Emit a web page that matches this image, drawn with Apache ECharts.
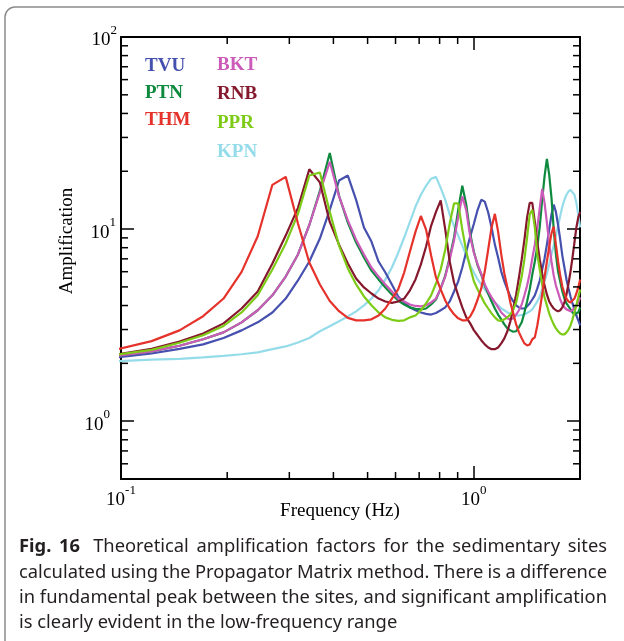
<!DOCTYPE html>
<html>
<head>
<meta charset="utf-8">
<script src="https://cdn.jsdelivr.net/npm/echarts@6.0.0/dist/echarts.min.js"></script>
<style>
html,body{margin:0;padding:0;background:#fff;}
#chart{width:624px;height:641px;}
</style>
</head>
<body>
<div id="chart"></div>
<script>
// Frequency samples (Hz)
const freq = [0.0977,0.1221,0.1465,0.1709,0.1953,0.2197,0.2441,0.2686,0.2930,0.3174,
0.3418,0.3662,0.3906,0.4150,0.4395,0.4639,0.4883,0.5127,0.5371,0.5615,
0.5859,0.6104,0.6348,0.6592,0.6836,0.7080,0.7324,0.7568,0.7813,0.8057,
0.8301,0.8545,0.8789,0.9033,0.9277,0.9521,0.9766,1.0010,1.0254,1.0498,
1.0742,1.0986,1.1230,1.1475,1.1719,1.1963,1.2207,1.2451,1.2695,1.2939,
1.3184,1.3428,1.3672,1.3916,1.4160,1.4404,1.4648,1.4893,1.5137,1.5381,
1.5625,1.5869,1.6113,1.6357,1.6602,1.6846,1.7090,1.7334,1.7578,1.7822,
1.8066,1.8311,1.8555,1.8799,1.9043,1.9287,1.9531,1.9775,2.0020];

const TVU = [2.15,2.25,2.38,2.51,2.71,2.97,3.27,3.68,4.35,5.40,
6.78,8.93,12.6,17.9,19.0,14.2,10.2,8.61,6.78,5.94,
5.15,4.46,4.15,3.91,3.78,3.68,3.62,3.59,3.66,3.78,
3.91,4.20,4.73,5.34,6.31,7.64,9.14,10.7,12.6,14.2,
13.9,12.2,10.2,8.30,7.11,6.01,5.34,4.85,4.46,4.20,
4.01,3.91,3.86,3.86,3.96,4.10,4.30,4.52,4.91,5.40,
6.16,7.03,8.30,9.94,11.9,13.4,12.3,10.5,8.81,7.28,
6.31,5.47,4.91,4.46,4.10,3.82,3.55,3.35,3.15];

const PTN = [2.19,2.31,2.47,2.67,2.90,3.27,3.78,4.52,5.66,7.38,
10.5,15.8,24.9,14.9,10.8,8.51,7.11,6.08,5.47,4.97,
4.57,4.25,4.05,3.91,3.84,3.82,3.86,4.05,4.30,4.91,
5.73,7.11,9.04,12.6,16.8,13.4,9.5,7.6,6.46,5.80,
5.08,4.62,4.20,3.86,3.59,3.39,3.19,3.04,2.97,2.92,
2.94,3.08,3.27,3.68,4.20,4.85,5.80,6.78,8.1,10.3,
14.2,18.8,23.2,19.2,14.6,10.0,7.38,6.01,5.34,4.73,
4.35,4.10,3.96,3.82,3.68,3.59,3.55,3.68,3.91];

const THM = [2.37,2.61,2.97,3.52,4.35,5.99,9.18,17.0,18.7,10.7,
6.70,5.15,4.22,3.74,3.45,3.35,3.35,3.39,3.55,3.86,
4.35,4.85,5.94,7.64,9.70,11.7,9.94,7.28,5.60,4.85,
4.25,3.86,3.60,3.43,3.35,3.35,3.51,3.82,4.30,4.91,
6.01,7.83,10.2,12.0,9.70,7.38,5.87,4.97,4.15,3.64,
3.19,2.90,2.70,2.54,2.48,2.51,2.67,2.73,3.15,3.78,
4.57,5.60,6.78,8.11,9.5,10.3,8.30,6.78,5.73,5.02,
4.62,4.35,4.20,4.15,4.20,4.35,4.62,4.97,5.47];

const BKT = [2.19,2.31,2.47,2.67,2.90,3.27,3.78,4.52,5.66,7.38,
10.5,15.5,22.4,14.8,11.1,8.81,7.38,6.31,5.66,5.15,
4.73,4.35,4.20,4.05,3.98,3.96,4.01,4.15,4.35,4.91,
5.66,6.95,8.71,11.6,14.8,12.5,9.14,7.51,6.55,5.87,
5.15,4.73,4.41,4.15,3.91,3.68,3.55,3.43,3.39,3.43,
3.59,3.78,4.05,4.52,5.08,5.87,7.03,8.30,10.2,12.9,
16.2,13.7,10.8,8.41,6.78,5.73,5.08,4.68,4.30,4.05,
3.91,3.82,3.78,3.73,3.78,3.86,3.96,4.15,4.41];

const RNB = [2.23,2.38,2.60,2.86,3.23,3.86,4.73,6.62,9.25,12.9,
20.5,17.5,10.9,8.30,6.62,5.53,4.97,4.62,4.35,4.20,
4.13,4.20,4.35,4.80,5.47,6.55,8.11,10.4,12.3,14.1,
9.94,6.78,5.27,4.52,3.91,3.47,3.23,2.97,2.80,2.64,
2.51,2.42,2.37,2.37,2.42,2.54,2.70,2.94,3.31,3.86,
4.57,5.60,6.95,8.81,11.5,13.7,13.7,10.9,8.51,6.95,
5.87,5.08,4.57,4.20,4.01,3.86,3.78,3.73,3.78,3.91,
4.15,4.57,5.21,6.01,7.11,8.51,10.2,11.5,12.3];

const PPR = [2.22,2.35,2.56,2.80,3.13,3.68,4.52,6.16,8.41,12.0,
19.0,19.7,12.3,8.20,6.24,5.15,4.46,4.01,3.68,3.47,
3.37,3.33,3.35,3.47,3.55,3.78,4.10,4.52,5.21,6.16,
7.83,10.7,13.6,13.6,9.94,7.64,6.31,5.34,4.85,4.46,
4.10,3.86,3.64,3.47,3.35,3.33,3.39,3.47,3.59,3.82,
4.15,4.85,5.66,6.95,9.04,11.9,12.6,10.2,7.38,6.16,
5.15,4.41,4.01,3.64,3.39,3.19,3.04,2.94,2.86,2.83,
2.83,2.90,3.00,3.15,3.39,3.68,4.01,4.41,4.85];

const KPN = [2.05,2.09,2.11,2.15,2.19,2.23,2.28,2.37,2.45,2.57,
2.71,2.94,3.12,3.31,3.51,3.73,4.01,4.35,4.80,5.47,
6.31,7.51,9.04,10.9,13.1,15.1,16.8,18.3,18.7,16.4,
14.2,11.9,10.4,9.25,8.20,7.28,6.46,5.94,5.47,5.15,
4.85,4.57,4.35,4.15,4.01,3.86,3.78,3.68,3.62,3.57,
3.55,3.55,3.57,3.59,3.66,3.73,3.82,4.01,4.20,4.46,
4.85,5.34,5.87,6.55,7.38,8.20,9.25,10.4,11.7,13.1,
14.2,15.1,15.7,16.0,16.0,15.1,13.7,11.9,10.2];

// Axis ticks
const xMajorExp = [-1, 0];
const yMajorExp = [0, 1, 2];
const xMinor = [0.2,0.3,0.4,0.5,0.6,0.7,0.8,0.9];
const yMinor = [0.6,0.7,0.8,0.9,2,3,4,5,6,7,8,9,20,30,40,50,60,70,80,90];

// Caption
const captionLabel = 'Fig. 16';
const captionLines = [
  'Theoretical amplification factors for the sedimentary sites',
  'calculated using the Propagator Matrix method. There is a difference',
  'in fundamental peak between the sites, and significant amplification',
  'is clearly evident in the low-frequency range'
];

const seriesData = {TVU, PTN, THM, BKT, RNB, PPR, KPN};
const colors = {TVU:'#4650ae', PTN:'#0e8a3e', THM:'#e5322a', BKT:'#cc5ab9', RNB:'#85182c', PPR:'#7dcb16', KPN:'#95dcea'};
const drawOrder = ['KPN','TVU','PTN','BKT','RNB','PPR','THM'];

const serif = 'Liberation Serif, Times New Roman, serif';
const sansName = '"Noto Sans"';

const yPad = {0: 7, 1: 1, 2: 0};
function powLabel(exps, pad) {
  return function (v) {
    const e = Math.round(Math.log10(v));
    if (Math.abs(Math.log10(v) - e) > 1e-6 || exps.indexOf(e) < 0) return '';
    let s = '{b|10}{s|' + e + '}';
    if (pad && pad[e]) s += '{p' + pad[e] + '| }';
    return s;
  };
}
const rich = {
  b: {fontFamily: serif, fontSize: 19, lineHeight: 26, verticalAlign: 'bottom', color: '#000'},
  s: {fontFamily: serif, fontSize: 13, lineHeight: 13, verticalAlign: 'top', color: '#000'},
  p1: {width: 1}, p7: {width: 7}
};
const axisLine = {show: true, onZero: false, lineStyle: {color: '#000', width: 2}};
const axisTick = {show: true, inside: true, length: 13, lineStyle: {color: '#000', width: 1.5}};

const chart = echarts.init(document.getElementById('chart'), null, {renderer: 'canvas'});

const lineSeries = drawOrder.map(n => ({
  name: n, type: 'line', xAxisIndex: 0, yAxisIndex: 0,
  data: freq.map((f, i) => [f, seriesData[n][i]]),
  showSymbol: false, symbol: 'none', smooth: false, clip: true,
  lineStyle: {color: colors[n], width: 2.2},
  itemStyle: {color: colors[n]},
  emphasis: {disabled: true}
}));

const tickData = xMinor.map(v => [v, 1, 0]).concat(yMinor.map(v => [1, v, 1]));
function seg(x1, y1, x2, y2) {
  return {type: 'line', shape: {x1, y1, x2, y2}, style: {stroke: '#000', lineWidth: 1.5}};
}
const minorSeries = {
  type: 'custom', name: 'minorTicks', coordinateSystem: 'cartesian2d',
  xAxisIndex: 0, yAxisIndex: 0, data: tickData, encode: {x: 0, y: 1},
  silent: true, clip: false, z: 10,
  renderItem: function (params, api) {
    const kind = api.value(2);
    if (kind === 0) {
      const v = api.value(0);
      const pb = api.coord([v, 0.5]);
      const pt = api.coord([v, 100]);
      return {type: 'group', children: [seg(pb[0], pb[1], pb[0], pb[1] - 7), seg(pt[0], pt[1], pt[0], pt[1] + 7)]};
    } else {
      const v = api.value(1);
      const pl = api.coord([0.1, v]);
      const pr = api.coord([2, v]);
      return {type: 'group', children: [seg(pl[0], pl[1], pl[0] + 7, pl[1]), seg(pr[0], pr[1], pr[0] - 7, pr[1])]};
    }
  }
};

const legendText = {fontFamily: serif, fontSize: 19, fontWeight: 'bold', lineHeight: 19};
function legendData(list) { return list.map(n => ({name: n, icon: 'none', textStyle: {color: colors[n]}})); }

// Caption layout (justified lines like the printed figure)
const mctx = document.createElement('canvas').getContext('2d');
function textW(str, font) { mctx.font = font; return mctx.measureText(str).width; }
function buildCaption() {
  const left = 19, right = 607, y0 = 547, dy = 25.3, fill = '#231f20';
  const refW = textW(captionLines[2], '16px ' + sansName);
  const fs = Math.max(15, Math.min(20, 16 * (right - left) / refW));
  const reg = fs.toFixed(2) + 'px ' + sansName;
  const bold = 'bold ' + reg;
  const els = [];
  captionLines.forEach((line, i) => {
    const y = y0 + i * dy;
    let tokens = line.split(' ').map(t => ({t, font: reg}));
    if (i === 0) tokens = captionLabel.split(' ').map(t => ({t, font: bold})).concat(tokens);
    if (i === captionLines.length - 1) {
      els.push({type: 'text', x: left, y, silent: true,
        style: {text: line, font: reg, fill, align: 'left', verticalAlign: 'middle'}});
      return;
    }
    const widths = tokens.map(k => textW(k.t, k.font));
    const total = widths.reduce((a, b) => a + b, 0);
    const units = tokens.length - 1 + (i === 0 ? 0.7 : 0);
    const gap = (right - left - total) / units;
    let x = left;
    tokens.forEach((k, j) => {
      els.push({type: 'text', x, y, silent: true,
        style: {text: k.t, font: k.font, fill, align: 'left', verticalAlign: 'middle'}});
      x += widths[j] + gap * ((i === 0 && j === 1) ? 1.7 : 1);
    });
  });
  return els;
}

const option = {
  backgroundColor: '#fff',
  animation: false,
  grid: {left: 121, right: 44, top: 37, bottom: 162, containLabel: false},
  xAxis: [
    {type: 'log', logBase: 10, min: 0.1, max: 2, position: 'bottom', gridIndex: 0,
     axisLine, axisTick, splitLine: {show: false}, minorTick: {show: false},
     axisLabel: {formatter: powLabel(xMajorExp), rich, margin: 5, showMinLabel: true, showMaxLabel: true}},
    {type: 'log', logBase: 10, min: 0.1, max: 2, position: 'top', gridIndex: 0,
     axisLine, axisTick, splitLine: {show: false}, axisLabel: {show: false}}
  ],
  yAxis: [
    {type: 'log', logBase: 10, min: 0.5, max: 100, position: 'left', gridIndex: 0,
     axisLine, axisTick, splitLine: {show: false}, minorTick: {show: false},
     axisLabel: {formatter: powLabel(yMajorExp, yPad), rich, margin: 4, showMinLabel: true, showMaxLabel: true}},
    {type: 'log', logBase: 10, min: 0.5, max: 100, position: 'right', gridIndex: 0,
     axisLine, axisTick, splitLine: {show: false}, axisLabel: {show: false}}
  ],
  legend: [
    {orient: 'vertical', left: 135, top: 52, itemWidth: 0, itemHeight: 19, itemGap: 8,
     selectedMode: false, data: legendData(['TVU','PTN','THM']), textStyle: legendText},
    {orient: 'vertical', left: 207, top: 51, itemWidth: 0, itemHeight: 19, itemGap: 10,
     selectedMode: false, data: legendData(['BKT','RNB','PPR','KPN']), textStyle: legendText}
  ],
  series: lineSeries.concat([minorSeries]),
  graphic: [
    {type: 'rect', shape: {x: 5, y: 7, width: 700, height: 720, r: 10}, silent: true,
     style: {fill: 'none', stroke: '#8c8c8c', lineWidth: 1.5}, z: -10},
    {type: 'text', x: 67, y: 241, rotation: Math.PI / 2, silent: true,
     style: {text: 'Amplification', font: '19px ' + serif, fill: '#000', align: 'center', verticalAlign: 'middle'}},
    {type: 'text', x: 340, y: 511, silent: true,
     style: {text: 'Frequency (Hz)', font: '19px ' + serif, fill: '#000', align: 'center', verticalAlign: 'middle'}}
  ].concat(buildCaption())
};
chart.setOption(option);
</script>
</body>
</html>
